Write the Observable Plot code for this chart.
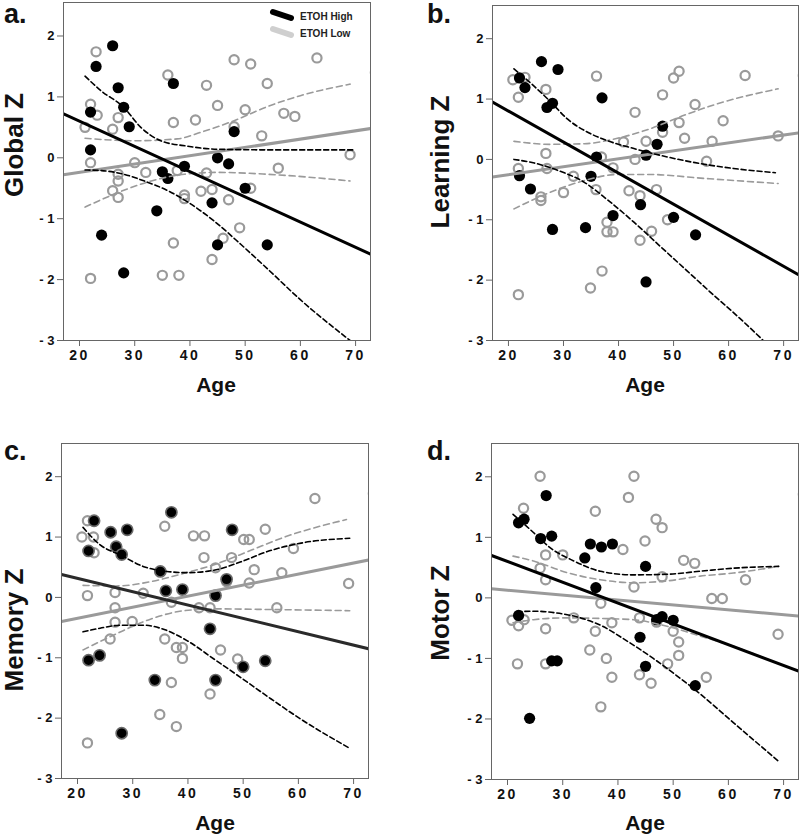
<!DOCTYPE html>
<html>
<head>
<meta charset="utf-8">
<script src="https://cdn.jsdelivr.net/npm/d3@7"></script>
<script src="https://cdn.jsdelivr.net/npm/@observablehq/plot@0.6"></script>
<style>
  html, body { margin: 0; padding: 0; background: #fff; }
  #root { position: relative; width: 800px; height: 834px; overflow: hidden; font-family: "Liberation Sans", Arial, sans-serif; }
  .panel { position: absolute; }
  .panel svg { display: block; }
  .lbl { position: absolute; font-weight: bold; color: #111; white-space: nowrap; line-height: 1; }
  .letter { font-size: 27px; }
  .xlab { font-size: 21px; transform: translateX(-50%); }
  .ylab { font-size: 26px; transform: translate(-50%, -50%) rotate(-90deg); }
  g[aria-label="x-axis tick label"] text { letter-spacing: 2.5px; }
</style>
</head>
<body>
<div id="root"></div>
<script>
// ---------- data: [age, z] ----------
const xTicks = [20, 30, 40, 50, 60, 70];
const yTicks = [-3, -2, -1, 0, 1, 2];
const legendLabels = ["ETOH High", "ETOH Low"];
const panelLetters = ["a.", "b.", "c.", "d."];
const yLabels = ["Global Z", "Learning Z", "Memory Z", "Motor Z"];

// Panel a: Global
const globalHigh = [[26,1.84],[23,1.50],[27,1.15],[22,0.75],[28,0.83],[29,0.51],[22,0.13],[37,1.22],[48,0.43],[45,0.0],[47,-0.10],[39,-0.14],[35,-0.23],[36,-0.34],[50,-0.50],[34,-0.87],[44,-0.74],[45,-1.43],[54,-1.43],[24,-1.27],[28,-1.89]];
const globalLow = [[23,1.74],[22,0.88],[23.2,0.70],[21,0.50],[27,0.66],[26,0.47],[22,-0.08],[27,-0.27],[27,-0.38],[26,-0.54],[27,-0.65],[30,-0.08],[32,-0.24],[22,-1.98],[36,1.36],[37,0.58],[41,0.62],[43,1.19],[45,0.86],[48,1.61],[51,1.54],[50,0.79],[54,1.22],[48,0.51],[53,0.36],[57,0.73],[59,0.68],[63,1.64],[69,0.05],[56,-0.17],[37.7,-0.21],[39,-0.61],[39,-0.67],[42,-0.55],[43,-0.25],[44,-0.52],[47,-0.69],[51,-0.50],[49,-1.15],[46,-1.32],[44,-1.67],[37,-1.40],[35,-1.93],[38,-1.93],[73.6,1.40]];
const globalHighFit = [[17.1,0.72],[72.7,-1.58]];
const globalLowFit = [[17.1,-0.28],[72.7,0.48]];
const globalHighUpper = [[21,1.34],[23.9,1.10],[28,0.83],[31.1,0.50],[34.7,0.28],[39.6,0.19],[45,0.14],[55,0.13],[69.5,0.13]];
const globalHighLower = [[21,-0.20],[24,-0.21],[28,-0.27],[32,-0.39],[36,-0.54],[40,-0.75],[44.4,-1.04],[49.2,-1.42],[54,-1.82],[60,-2.33],[69,-3.0]];
const globalLowUpper = [[21,0.32],[30,0.28],[37.7,0.31],[42,0.42],[48,0.61],[54,0.84],[60,1.02],[69,1.21]];
const globalLowLower = [[21,-0.81],[27,-0.57],[33,-0.38],[39,-0.27],[45,-0.24],[54,-0.27],[69,-0.38]];

// Panel b: Learning
const learningHigh = [[22,1.35],[23,1.19],[26,1.62],[29,1.49],[27,0.86],[28,0.93],[37,1.02],[48,0.55],[47,0.25],[45,0.07],[36,0.04],[35,-0.28],[22,-0.27],[24,-0.49],[28,-1.16],[34,-1.13],[39,-0.93],[44,-0.75],[50,-0.96],[54,-1.25],[45,-2.03]];
const learningLow = [[20.8,1.32],[23,1.36],[21.8,1.03],[26.8,1.16],[26.8,0.10],[27,-0.15],[21.8,-0.15],[25.9,-0.62],[25.9,-0.68],[30,-0.55],[31.8,-0.28],[36,1.38],[36.9,0.04],[35.9,-0.50],[37.9,-1.04],[37.9,-1.20],[39,-1.20],[37,-1.85],[34.9,-2.13],[21.8,-2.24],[40.9,0.29],[43,0.78],[43,0.0],[45,0.30],[39,-0.14],[41.9,-0.52],[43.9,-0.60],[43.9,-1.34],[46,-1.19],[46.9,-0.50],[48,1.07],[48,0.45],[48.9,-1.0],[50,1.35],[51,1.46],[51,0.61],[52,0.35],[53.9,0.91],[56,-0.03],[57,0.30],[59,0.64],[63,1.39],[69,0.39],[73.6,1.39]];
const learningHighFit = [[17.1,0.95],[72.7,-1.91]];
const learningLowFit = [[17.1,-0.29],[72.7,0.44]];
const learningHighUpper = [[21,1.50],[24.7,1.21],[27.7,0.95],[30.7,0.67],[34.4,0.45],[38,0.31],[42.8,0.18],[48.9,0.04],[54.9,-0.07],[60.9,-0.15],[68.5,-0.22]];
const learningHighLower = [[21,0.0],[24.7,-0.06],[28.9,-0.18],[33.8,-0.38],[38,-0.67],[42.8,-1.04],[47.7,-1.45],[52.5,-1.85],[57.3,-2.25],[62,-2.63],[66.3,-3.0]];
const learningLowUpper = [[21,0.30],[27.7,0.25],[33.8,0.26],[39.8,0.35],[45.8,0.51],[51.9,0.73],[57.9,0.92],[69,1.17]];
const learningLowLower = [[21,-0.82],[27.7,-0.54],[33.8,-0.35],[39.8,-0.25],[45.8,-0.25],[54.9,-0.31],[69,-0.40]];

// Panel c: Memory
const memoryHigh = [[23,1.27],[22,0.77],[26,1.08],[27,0.84],[28,0.71],[29,1.12],[37,1.41],[35,0.43],[36,0.11],[39,0.13],[48,1.12],[47,0.30],[45,0.03],[44,-0.52],[22,-1.04],[24,-0.96],[34,-1.37],[45,-1.37],[50,-1.15],[54,-1.05],[28,-2.25]];
const memoryLow = [[20.8,1.0],[21.8,1.27],[22.9,1.0],[23,0.74],[21.8,0.03],[21.8,-2.41],[26.8,0.08],[26.8,-0.17],[26.8,-0.41],[25.9,-0.69],[29.9,-0.40],[31.9,0.07],[35.8,1.18],[37,-0.08],[35.8,-0.69],[37.9,-0.83],[39,-0.83],[39,-1.01],[37,-1.41],[34.9,-1.94],[37.9,-2.14],[41,1.02],[43,1.02],[42.9,0.66],[45,0.49],[42,-0.17],[44,-0.17],[45.9,-0.87],[44,-1.60],[47.9,0.66],[47,0.26],[49,-1.02],[50.1,0.96],[51.1,0.96],[52,0.46],[51.1,0.24],[54,1.13],[57,0.41],[59.1,0.81],[56.1,-0.17],[63,1.64],[69.1,0.23],[73.6,1.72]];
const memoryHighFit = [[17.1,0.38],[72.7,-0.85]];
const memoryLowFit = [[17.1,-0.40],[72.7,0.62]];
const memoryHighUpper = [[21,1.16],[24.1,0.87],[27.8,0.70],[32,0.51],[36.2,0.43],[39.9,0.41],[44.7,0.45],[49.6,0.59],[54.4,0.76],[60.5,0.90],[69.3,0.98]];
const memoryHighLower = [[21,-0.57],[24.1,-0.51],[27.8,-0.46],[32,-0.46],[35,-0.51],[39.9,-0.72],[44.7,-1.02],[49.6,-1.33],[54.4,-1.64],[60.5,-2.02],[69.3,-2.50]];
const memoryLowUpper = [[21,0.20],[27.1,0.19],[33.2,0.26],[39.3,0.40],[45.3,0.56],[51.4,0.78],[57.5,1.0],[68.7,1.29]];
const memoryLowLower = [[21,-0.87],[27.1,-0.60],[33.2,-0.36],[39.3,-0.22],[45.3,-0.19],[54.4,-0.20],[69.3,-0.22]];

// Panel d: Motor
const motorHigh = [[22,1.24],[23,1.30],[27,1.69],[26,0.98],[28,1.02],[34,0.66],[35,0.89],[37,0.84],[39,0.89],[45,0.52],[36,0.17],[22,-0.29],[28,-1.04],[29,-1.04],[24,-1.99],[47,-0.36],[48,-0.31],[50,-0.37],[44,-0.65],[45,-1.13],[54,-1.45]];
const motorLow = [[25.9,2.01],[42.9,2.01],[41.9,1.66],[22.9,1.48],[35.9,1.43],[46.9,1.30],[48,1.16],[44.9,0.94],[40.9,0.80],[26.9,0.71],[30,0.71],[25.9,0.49],[26.9,0.30],[51.9,0.62],[53.9,0.57],[48,0.35],[42.9,0.18],[63.1,0.30],[57,-0.01],[58.9,-0.01],[20.8,-0.37],[22,-0.46],[23,-0.36],[26.9,-0.51],[32,-0.33],[36.9,-0.09],[35.9,-0.55],[38.9,-0.41],[43.9,-0.33],[47,-0.40],[50,-0.55],[51,-0.73],[51,-0.95],[49,-1.09],[56,-1.31],[69,-0.60],[21.8,-1.09],[26.9,-1.09],[34.9,-0.86],[37.9,-1.00],[38.9,-1.31],[43.9,-1.27],[46,-1.41],[36.9,-1.80],[73.6,1.71]];
const motorHighFit = [[17.1,0.70],[72.7,-1.21]];
const motorLowFit = [[17.1,0.15],[72.7,-0.30]];
const motorHighUpper = [[21,1.38],[24.7,1.08],[27.7,0.83],[32,0.61],[36.8,0.44],[42.8,0.38],[48.9,0.39],[54.9,0.44],[60.9,0.49],[69.1,0.52]];
const motorHighLower = [[21.7,-0.23],[24.7,-0.22],[28.9,-0.25],[33.2,-0.33],[36.8,-0.45],[41.6,-0.71],[46.4,-1.00],[51.3,-1.33],[54,-1.52],[60.9,-2.06],[69.1,-2.70]];
const motorLowUpper = [[21,0.69],[24.7,0.61],[30.7,0.42],[36.8,0.30],[42.8,0.25],[48.9,0.28],[54.9,0.36],[60.9,0.41],[69.1,0.52]];
const motorLowLower = [[21,-0.41],[24.7,-0.36],[30.7,-0.33],[36.8,-0.34],[42.8,-0.36],[48.9,-0.47],[54.9,-0.63],[60.9,-0.80],[69.1,-1.09]];

// ---------- drawing ----------
const X = d => d[0], Y = d => d[1];
const GRAY = "#9a9a9a";
const fontFamily = "'Liberation Sans', Arial, Helvetica, sans-serif";

function makePanel(cfg) {
  const {high, low, highFit, lowFit, hu, hl, lu, ll, m, h, ringed, highLineColor} = cfg;
  const blackDash = {x: X, y: Y, stroke: "#000", strokeWidth: 1.6, strokeDasharray: "5,3", curve: "monotone-x", clip: true};
  const grayDash = {x: X, y: Y, stroke: GRAY, strokeWidth: 1.6, strokeDasharray: "6,4", curve: "monotone-x", clip: true};
  return Plot.plot({
    width: 400, height: h,
    marginLeft: m[0], marginRight: m[1], marginTop: m[2], marginBottom: m[3],
    x: {domain: [17.1, 72.7]},
    y: {domain: [-3, 2.55]},
    style: {fontFamily, background: "transparent", overflow: "visible"},
    marks: [
      Plot.axisX({ticks: xTicks, tickSize: 6, tickPadding: 4, fontSize: 14, fontWeight: "bold", stroke: "#666", fill: "#111", label: null, tickFormat: d => String(d)}),
      Plot.axisY({ticks: yTicks, tickSize: 6, tickPadding: 3, fontSize: 13, fontWeight: "bold", stroke: "#666", fill: "#111", label: null, tickFormat: d => d < 0 ? "- " + Math.abs(d) : String(d)}),
      Plot.dot(low, {x: X, y: Y, r: 4.6, stroke: GRAY, strokeWidth: 2.2, fill: "none", clip: true}),
      Plot.dot(high, {x: X, y: Y, r: 5.6, fill: "#000", stroke: ringed ? "#6a6a6a" : "none", strokeWidth: ringed ? 1.6 : 0, clip: true}),
      Plot.line(lu, grayDash),
      Plot.line(ll, grayDash),
      Plot.line(lowFit, {x: X, y: Y, stroke: GRAY, strokeWidth: 3, clip: true}),
      Plot.line(hu, blackDash),
      Plot.line(hl, blackDash),
      Plot.line(highFit, {x: X, y: Y, stroke: highLineColor || "#000", strokeWidth: 3, clip: true}),
      Plot.frame({stroke: "#666", strokeWidth: 1})
    ]
  });
}

const root = document.getElementById("root");
function addLabel(text, cls, left, top) {
  const d = document.createElement("div");
  d.className = "lbl " + cls;
  d.textContent = text;
  d.style.left = left + "px";
  d.style.top = top + "px";
  root.appendChild(d);
  return d;
}

const panels = [
  {high: globalHigh, low: globalLow, highFit: globalHighFit, lowFit: globalLowFit, hu: globalHighUpper, hl: globalHighLower, lu: globalLowUpper, ll: globalLowLower,
   left: 0, top: 0, h: 400, m: [63, 30, 2, 60], letterPos: [4, 1], ylabPos: [14, 145], xlabPos: [216, 374]},
  {high: learningHigh, low: learningLow, highFit: learningHighFit, lowFit: learningLowFit, hu: learningHighUpper, hl: learningHighLower, lu: learningLowUpper, ll: learningLowLower,
   left: 400, top: 0, h: 400, m: [92, 2, 5, 60], letterPos: [427, 1], ylabPos: [440, 162], xlabPos: [645, 374]},
  {high: memoryHigh, low: memoryLow, highFit: memoryHighFit, lowFit: memoryLowFit, hu: memoryHighUpper, hl: memoryHighLower, lu: memoryLowUpper, ll: memoryLowLower,
   left: 0, top: 420, h: 414, m: [61, 32, 23, 56], ringed: true, highLineColor: "#2a2a2a", letterPos: [4, 438], ylabPos: [14, 630], xlabPos: [215, 812]},
  {high: motorHigh, low: motorLow, highFit: motorHighFit, lowFit: motorLowFit, hu: motorHighUpper, hl: motorHighLower, lu: motorLowUpper, ll: motorLowLower,
   left: 400, top: 420, h: 414, m: [91, 2, 23, 55], letterPos: [427, 438], ylabPos: [440, 613], xlabPos: [645, 812]}
];

panels.forEach((p, i) => {
  const wrap = document.createElement("div");
  wrap.className = "panel";
  wrap.style.left = p.left + "px";
  wrap.style.top = p.top + "px";
  wrap.appendChild(makePanel(p));
  root.appendChild(wrap);
  addLabel(panelLetters[i], "letter", p.letterPos[0], p.letterPos[1]);
  addLabel(yLabels[i], "ylab", p.ylabPos[0], p.ylabPos[1]);
  addLabel("Age", "xlab", p.xlabPos[0], p.xlabPos[1]);
});

// legend (panel a, top right)
const ns = "http://www.w3.org/2000/svg";
const leg = document.createElementNS(ns, "svg");
leg.setAttribute("width", 100);
leg.setAttribute("height", 45);
leg.style.position = "absolute";
leg.style.left = "265px";
leg.style.top = "0px";
const legColors = ["#000", "#cfcfcf"];
legendLabels.forEach((t, i) => {
  const y0 = 12 + i * 17;
  const ln = document.createElementNS(ns, "line");
  ln.setAttribute("x1", 8); ln.setAttribute("y1", y0);
  ln.setAttribute("x2", 26); ln.setAttribute("y2", y0 + 6);
  ln.setAttribute("stroke", legColors[i]);
  ln.setAttribute("stroke-width", 6);
  ln.setAttribute("stroke-linecap", "round");
  leg.appendChild(ln);
  const tx = document.createElementNS(ns, "text");
  tx.setAttribute("x", 35); tx.setAttribute("y", y0 + 8);
  tx.setAttribute("font-family", "Liberation Sans, Arial, sans-serif");
  tx.setAttribute("font-size", 10);
  tx.setAttribute("font-weight", "bold");
  tx.setAttribute("fill", "#222");
  tx.textContent = t;
  leg.appendChild(tx);
});
root.appendChild(leg);
</script>
</body>
</html>
